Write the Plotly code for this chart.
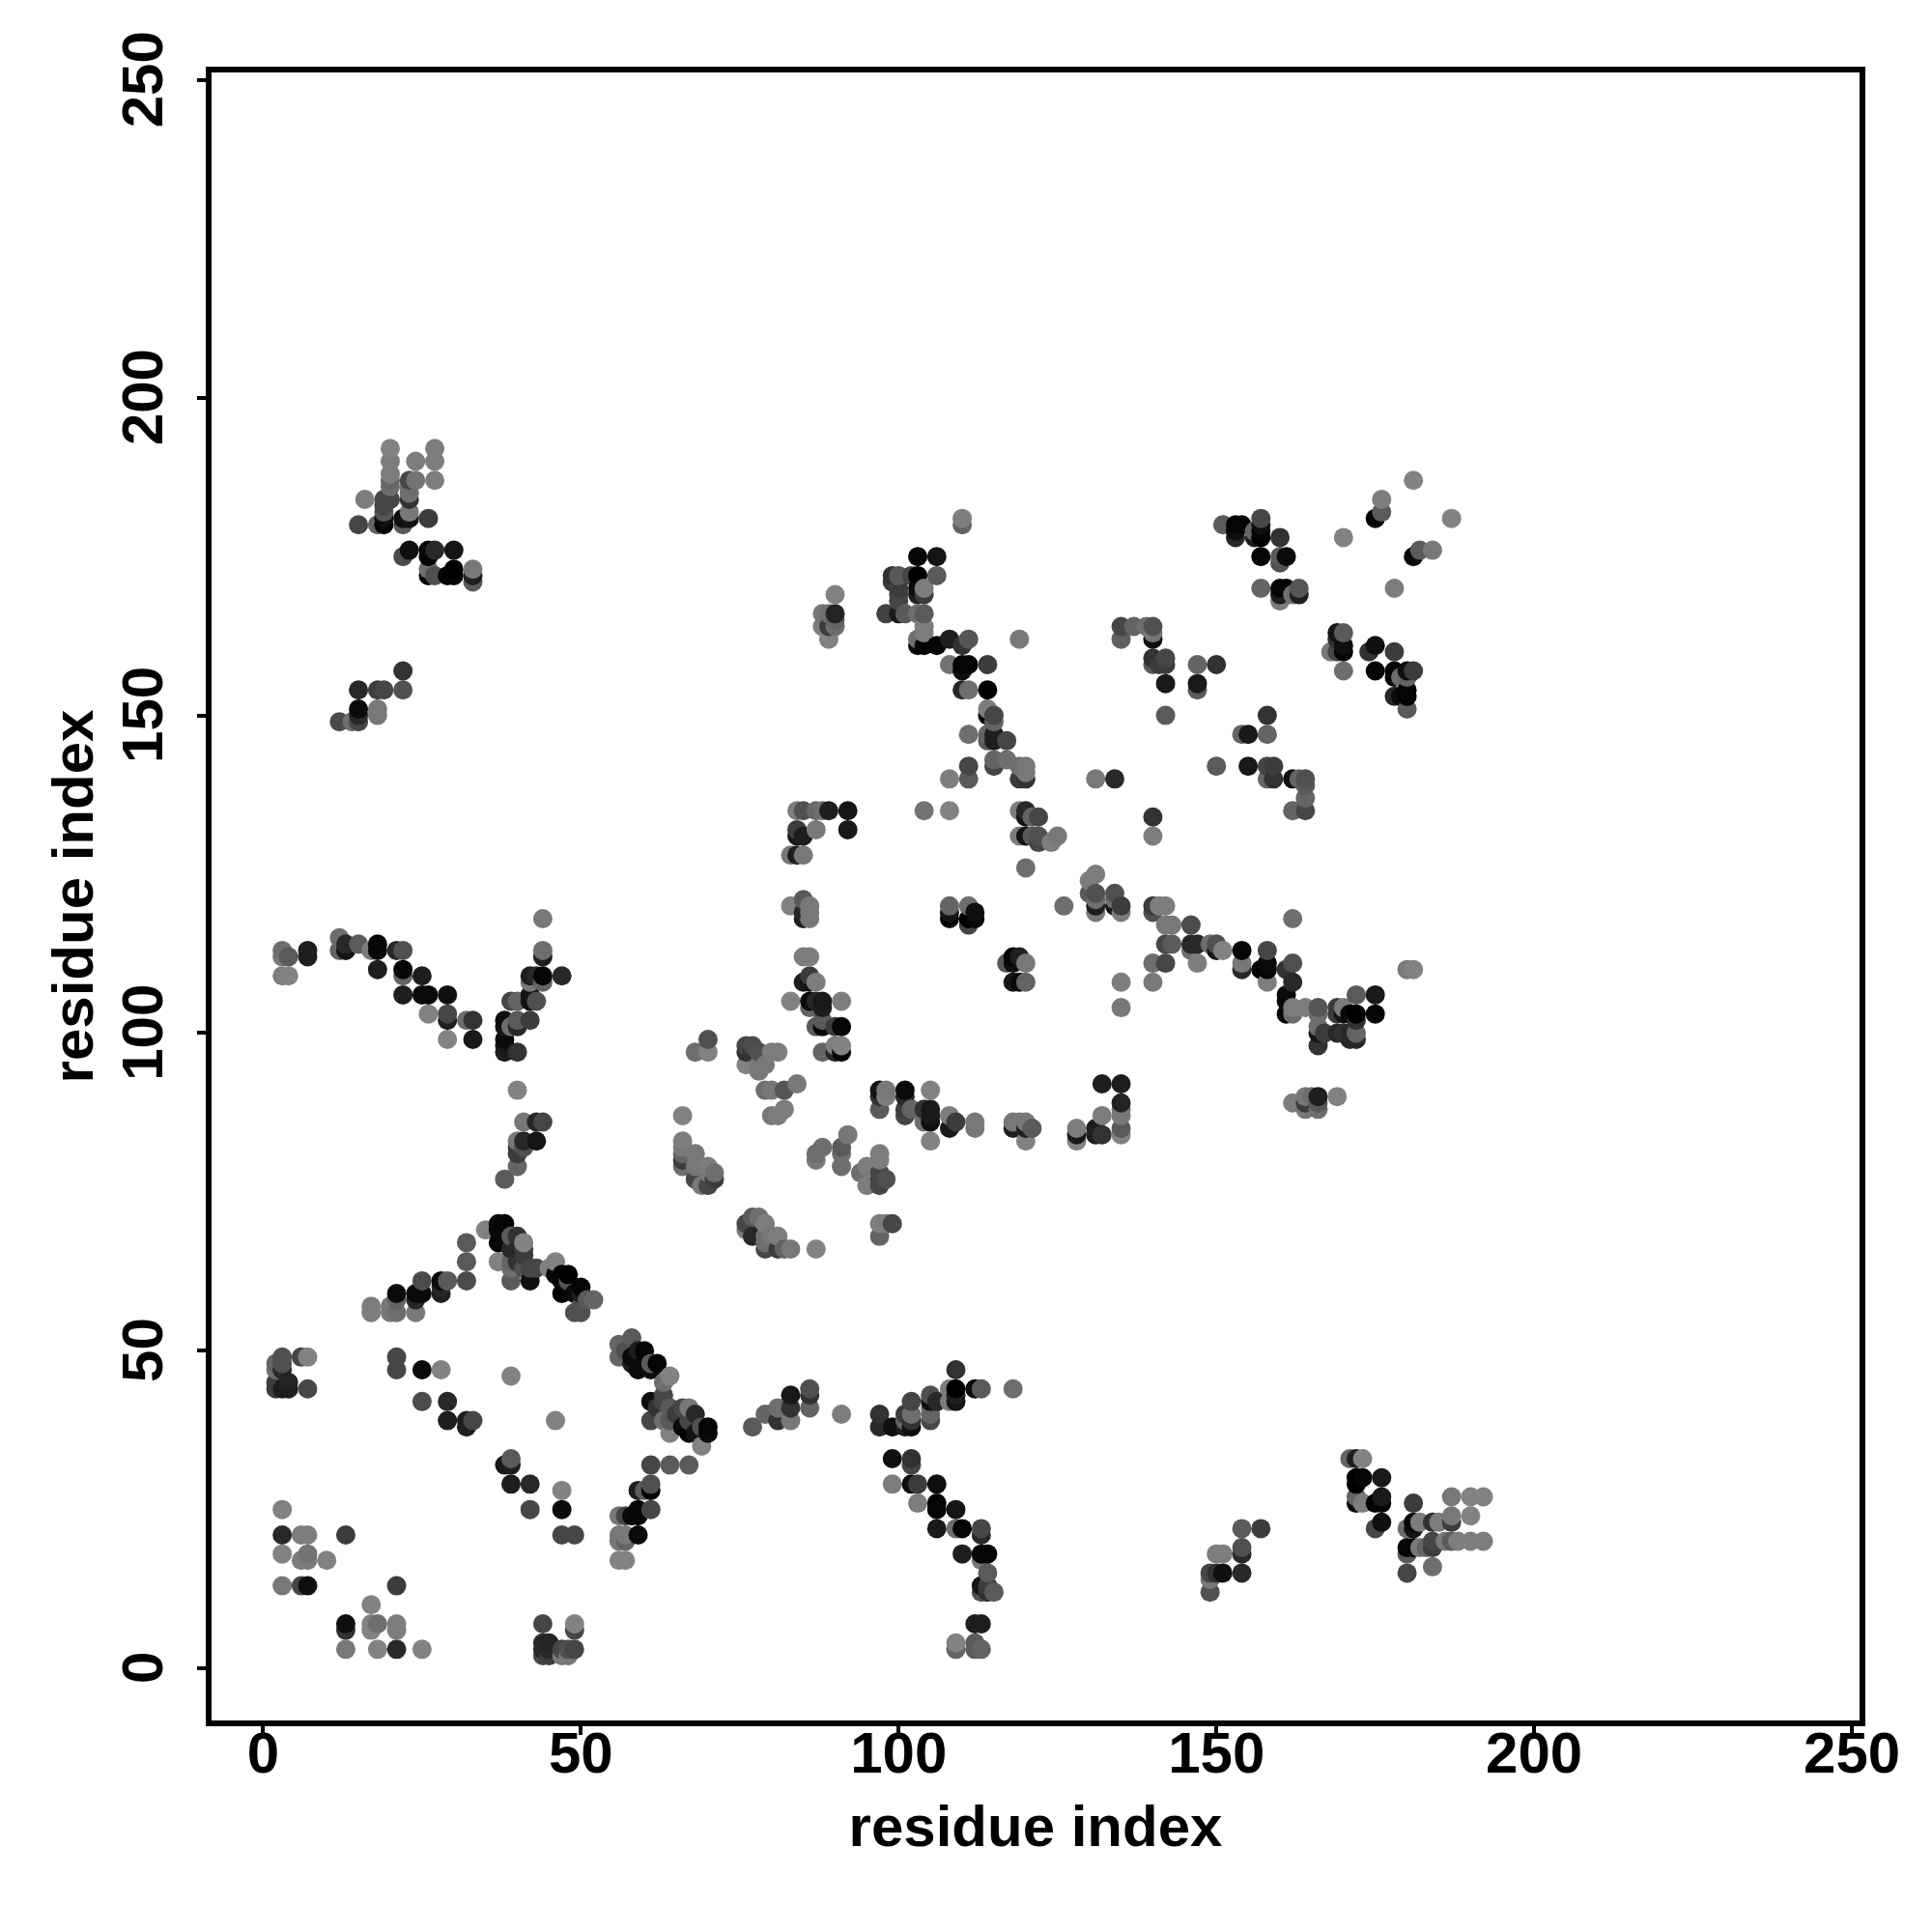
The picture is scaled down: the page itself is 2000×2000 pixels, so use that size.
import numpy as np
import plotly.graph_objects as go

# Contacts: (residue i, residue j, shade) with shade 0 (strongest, black) .. 140 (weakest, grey)
corner_low = [(3,25,130),(3,21,40),(6,21,125),(7,21,125),(13,21,60),(3,18,130),(6,17,125),(7,17,125),(7,18,115),(10,17,130),
 (3,13,120),(6,13,70),(7,13,15),(21,13,60),(17,10,130),(13,7,15),(13,6,50),(17,7,130),(17,6,130),(18,7,110),(21,7,125),(21,6,125),
 (13,3,120),(18,3,130),(21,3,40),(25,3,130),(44,7,70),(49,7,130),(49,6,70),(44,4,40),(45,4,35),(44,3,40),(44,2,70),(45,2,60),(45,3,40),
 (47,2,120),(48,2,120),(48,3,80),(49,3,70),(47,3,70)]
left_44_49 = [(3,49,80),(3,48,80),(2,44,60),(2,45,60),(3,44,30),(4,44,30),(4,45,35),(3,47,40),(6,49,70),(7,49,130),(7,44,70),(2,47,110),(2,48,100)]
inner_diamond = [(21,49,70),(21,47,70),(25,47,10),(28,47,130),(25,42,75),(29,42,40),(29,39,30),(32,39,30),(32,38,30),(33,39,70),(39,46,130),(46,39,130),
 (39,33,90),(38,32,25),(39,32,30),(39,29,30),(42,29,40),(47,28,130),(47,25,10),(42,25,70),(47,21,70),(49,21,70)]
lower_arm = [(61,32,70),(64,32,90),(67,32,90),(61,29,80),(61,28,5),(59,28,30),(60,28,90),(61,25,70),(59,25,5),(58,24,10),(59,24,5),(56,24,120),(57,24,70),
 (59,21,10),(56,21,120),(57,21,120),(56,20,120),(57,20,100),(56,17,130),(57,17,130)]
diag_50_70 = [(58,52,90),(56,51,100),(56,49,100),(57,50,80),(59,50,30),(60,50,5),(58,48,30),(59,47,10),(61,47,15),(62,48,5),(61,48,90),(58,49,10),(60,48,10),(64,46,130),(63,45,110),
 (61,42,15),(63,43,70),(63,42,70),(64,41,90),(61,39,70),(64,39,90),(64,37,130),(63,39,110),(66,41,70),(67,41,120),(68,40,40),(67,39,70),(66,38,10),(67,37,5),(69,38,80),(70,38,5),(70,37,10),
 (69,35,130),(68,37,20),(62,41,50),(65,40,60)]
rise_17_32 = [(17,57,125),(17,56,125),(20,57,120),(20,56,120),(21,58,100),(21,56,110),(24,56,120),(24,58,40),(21,59,10),(24,59,10),(25,59,10),(25,61,75),(28,61,10),(28,59,30),(29,61,90),(28,60,40),(32,61,75),(32,64,90)]
peak_35_52 = [(35,69,130),(37,70,10),(38,70,5),(37,69,10),(37,67,5),(39,68,90),(40,68,50),(41,67,130),(41,66,60),(39,66,40),(38,67,10),(32,67,90),(37,64,130),(39,64,100),(39,63,110),
 (41,63,80),(42,63,70),(43,63,70),(45,63,130),(46,64,130),(39,61,90),(42,61,15),(46,62,10),(47,62,5),(48,62,0),(47,61,10),(50,60,5),(48,61,80),(47,59,5),(49,59,10),(50,59,30),
 (51,58,90),(52,58,100),(50,57,80),(49,56,80),(50,56,80),(40,66,40),(41,65,60),(40,64,50)]
left_arm_110 = [(3,113,110),(3,112,120),(4,112,90),(7,113,30),(7,112,30),(3,109,125),(4,109,130),(12,115,110),(12,113,100),(13,114,40),(13,113,20),(15,114,90),(17,113,125),(18,114,5),(18,113,10),
 (21,113,40),(22,113,80),(18,110,30),(22,110,5),(22,109,100),(25,109,30),(22,106,30),(25,106,10),(26,106,10),(29,106,15),(26,103,130),(29,103,70),(29,102,30),(32,102,110),(33,102,50),(29,99,130),(33,99,25)]
v_arm_40 = [(44,118,120),(44,113,110),(44,112,30),(42,109,30),(43,109,40),(44,109,5),(47,109,40),(42,108,120),(44,108,100),(39,105,70),(40,105,100),(42,105,20),(42,106,20),(43,105,80),
 (38,102,15),(40,102,90),(42,102,60),(38,101,20),(39,101,110),(40,101,40),(38,99,10),(38,97,30),(40,97,50),(38,98,25),(40,91,130),(41,86,120),(43,86,40),(44,86,70),
 (40,83,120),(41,83,40),(43,83,20),(40,82,60),(41,82,80),(40,81,60),(40,79,100),(38,77,90)]
stem_85 = [(83,120,130),(85,121,90),(85,119,40),(85,118,30),(86,120,120),(86,119,120),(86,118,120),(85,112,125),(86,112,125),(86,109,60),(85,108,30),(86,108,20),(87,108,125),
 (83,105,130),(86,105,10),(87,105,40),(88,105,25),(91,105,125),(86,104,100),(88,104,30),(87,101,90),(88,102,90),(88,101,10),(90,101,60),(91,101,5),(88,97,100),(90,98,125),(91,98,130),(91,97,5),(90,97,40)]
mid_66_84 = [(70,99,80),(70,97,130),(68,97,110),(76,98,70),(77,98,75),(76,97,50),(77,97,50),(78,97,80),(80,97,125),(81,97,125),(76,95,130),(78,95,120),(79,95,120),(78,94,120),
 (79,91,110),(80,91,120),(82,91,85),(84,92,120),(80,87,120),(81,87,125),(82,88,125),(66,87,130),(66,83,125),(66,82,120),(66,81,100),(66,80,60),(66,79,110),(68,81,120),(68,79,120),(68,77,70),
 (70,79,125),(70,78,120),(69,76,120),(70,76,70),(71,78,110),(71,77,60)]
mid_87_98 = [(88,82,110),(87,81,110),(87,80,120),(92,84,120),(91,82,90),(91,81,110),(91,79,110),(97,81,125),(97,80,125),(94,78,110),(95,79,125),(95,76,125),(97,77,70),(97,76,70),(98,77,80),(97,78,70)]
band_85 = [(97,88,90),(97,91,20),(98,91,120),(98,90,125),(97,90,50),(101,91,10),(101,90,40),(101,88,60),(101,87,70),(102,88,100),(105,91,130),(104,88,50),(105,88,25),(105,87,25),(105,86,15),(104,86,110),(105,83,130),
 (108,87,125),(108,85,25),(109,86,60),(112,86,120),(112,85,120),(118,86,120),(118,85,30),(119,86,120),(120,86,120),(120,85,30),(121,85,90),(120,83,130),(128,85,125),(128,84,25),(128,83,130),
 (131,85,30),(131,84,30),(132,84,50),(132,87,125),(132,92,30),(135,92,30),(135,89,35),(135,88,120),(135,87,120),(135,85,90),(135,84,130)]
cluster_66_99 = [(76,70,70),(77,71,90),(78,71,110),(79,70,125),(76,69,125),(77,68,40),(79,68,110),(79,67,110),(80,68,120),(81,68,125),(79,66,70),(81,66,60),(82,66,100),(83,66,120),(87,66,130),(97,70,125),(98,70,125),(99,70,70),(97,68,100)]
band_40 = [(77,38,90),(79,40,100),(80,40,100),(81,39,50),(83,39,120),(81,41,110),(83,43,25),(83,41,50),(86,44,80),(86,43,50),(86,41,100),(91,40,125),(97,40,50),(97,38,40),(99,38,15),(101,40,60),(102,42,70),(102,40,110),(101,38,30),(102,38,15),(101,39,100),(102,39,50),
 (105,43,80),(105,42,15),(106,42,40),(105,41,100),(105,40,100),(105,39,70),(108,44,125),(108,42,125),(109,47,50),(109,44,0),(109,43,30),(109,42,20),(112,44,10),(113,44,90),(118,44,110)]
descent_100_115 = [(99,33,15),(102,33,50),(102,32,70),(99,29,125),(102,29,15),(103,29,60),(106,29,15),(103,26,125),(106,26,5),(106,25,5),(109,25,20),(106,22,25),(109,22,110),(110,22,5),(113,22,70),(113,21,40),
 (110,18,30),(113,18,5),(114,18,5),(113,17,120),(114,15,90),(113,13,20),(113,12,80),(114,13,60),(114,12,50),(115,12,90),(112,7,30),(113,7,30),(109,4,130),(109,3,100),(112,4,90),(112,3,90),(113,3,100)]
right_low = [(149,12,80),(149,14,120),(149,15,70),(150,15,50),(151,15,15),(150,18,125),(151,18,125),(154,15,40),(154,18,40),(154,19,80),(154,22,90),(157,22,60),
 (171,33,100),(172,33,30),(173,33,130),(172,30,0),(173,30,5),(172,29,0),(176,30,25),(172,27,100),(172,26,10),(173,26,125),(175,26,0),(176,27,25),(176,26,5),(176,23,15),(175,22,70),
 (181,26,60),(180,22,110),(181,23,5),(181,22,20),(182,23,125),(184,23,50),(185,23,125),(187,23,60),(187,24,120),(190,24,130),(187,27,120),(190,27,130),(192,27,130),
 (180,19,5),(181,19,5),(180,18,90),(180,15,70),(182,19,120),(183,19,100),(184,19,60),(184,20,70),(184,16,110),(186,20,120),(187,20,90),(188,20,125),(190,20,125),(192,20,125)]
band_110 = [(120,126,110),(131,125,125),(130,124,125),(130,122,90),(131,122,80),(131,121,110),(131,120,30),(131,119,120),(134,122,80),(134,121,110),(135,120,60),(134,120,20),(135,119,125),(126,120,110),
 (140,120,60),(140,119,80),(141,120,125),(142,120,125),(142,117,120),(143,117,120),(142,114,70),(143,114,90),(146,117,75),(146,114,40),(147,114,40),(146,113,110),(149,114,110),(150,114,80),(150,113,20),(151,113,130),
 (154,113,5),(158,113,70),(162,118,110),(140,111,110),(142,111,70),(147,111,125),(154,111,120),(154,110,40),(157,110,5),(158,111,10),(158,110,5),(158,108,125),
 (161,110,50),(162,111,80),(162,108,40),(161,106,10),(161,105,10),(161,103,5),(162,103,110),(162,104,125),(164,104,125),(166,104,85),(166,103,110),(166,101,110),(167,100,60),(166,100,20),(166,98,50),
 (169,104,60),(170,104,125),(169,103,60),(170,103,20),(171,103,10),(172,103,0),(175,103,5),(175,106,25),(172,106,90),(172,102,50),(169,100,40),(170,100,50),(171,100,40),(171,99,40),(172,99,40),(172,100,100),(180,110,120),(181,110,130),
 (118,112,5),(119,112,30),(117,111,90),(118,111,15),(120,111,120),(118,108,25),(119,108,10),(120,108,100),(135,108,125),(135,104,120),(140,108,120),
 (162,89,125),(164,90,120),(164,89,60),(164,88,120),(166,90,30),(166,89,90),(166,88,110),(165,90,110),(169,90,130)]
stem_110_172 = [(110,181,125),(110,180,100),(103,175,5),(106,175,20),(99,172,50),(100,172,90),(99,171,60),(103,172,0),(106,172,90),(102,172,70),(100,169,70),(100,170,60),(103,170,10),(104,170,125),(103,169,30),(104,169,60),(100,168,70),
 (98,166,65),(100,166,25),(101,166,90),(103,166,110),(104,166,90),(104,164,125),(104,163,125),(103,162,110),(103,161,5),(104,161,5),(106,161,5),(108,162,30),(110,161,50),(111,162,85),(119,162,120),
 (90,169,130),(88,166,120),(89,166,110),(90,166,35),(88,164,125),(89,164,60),(90,165,100),(90,164,110),(89,162,130),
 (108,158,115),(110,158,5),(111,158,5),(110,157,15),(114,158,60),(110,154,40),(111,154,110),(114,154,0),(114,151,125),(115,150,70),(114,150,5),(115,149,100),(111,147,110),(114,147,100),(115,147,30),(114,146,90),(115,146,30),(117,146,70),
 (115,143,100),(115,142,70),(117,143,110),(119,142,110),(120,142,120),(120,141,120),(119,140,60),(120,140,50),(111,142,70),(111,140,90),(108,140,125),(131,140,120),(134,140,40),(104,135,115),(108,135,130),
 (119,135,125),(120,135,40),(120,134,20),(121,134,100),(122,134,70),(119,131,125),(120,131,20),(121,131,90),(122,131,80),(122,130,70),(124,130,125),(125,131,120),(120,126,110)]
block_84_92 = [(84,135,125),(85,135,80),(87,135,105),(88,135,110),(89,135,30),(92,135,20),(84,132,60),(84,131,25),(85,131,30),(87,132,120),(92,132,25),(83,128,120),(84,128,30),(85,128,120),(108,120,100),(108,118,5),(108,119,20),(111,120,110),(111,118,0),(111,117,70),(112,119,15),(112,118,5)]
block_135_150 = [(135,164,70),(135,162,95),(137,164,100),(139,164,110),(140,164,80),(140,162,15),(140,163,120),(140,159,50),(140,158,90),(142,159,70),(142,158,60),(141,158,60),(142,155,25),(147,155,25),(147,154,90),(147,158,100),(150,158,50),(142,150,90),(140,134,50),(140,131,125)]
upper_right = [(151,180,90),(153,180,5),(154,180,5),(153,179,15),(153,178,40),(157,181,70),(157,180,15),(156,179,100),(157,179,5),(157,178,0),(156,178,30),(160,178,50),(157,175,5),(160,175,90),(161,175,10),(160,174,80),
 (157,170,100),(160,170,5),(161,170,5),(160,169,30),(160,168,125),(162,169,110),(163,170,85),(163,169,30),(181,187,130),(176,184,125),(176,182,90),(175,181,5),(187,181,130),(170,178,130),(181,175,10),(182,176,90),(184,176,120),(178,170,125),
 (169,163,20),(170,163,90),(169,162,50),(170,161,15),(170,160,5),(168,160,120),(169,160,70),(170,157,110),(174,160,50),(175,161,15),(178,160,60),(175,157,5),(178,157,5),(180,157,15),(181,157,60),(178,156,5),(179,156,110),(180,156,100),
 (178,153,40),(179,153,10),(180,153,0),(180,154,5),(180,151,90),(158,150,50),(154,147,100),(155,147,25),(158,147,100),(150,142,90),(155,142,25),(158,142,70),(159,142,60),(158,140,100),(159,140,50),(162,140,15),(163,140,100),(164,140,80),(164,139,90),(164,137,100),(162,135,100),(164,135,70)]
upper_left = [(20,192,130),(20,190,125),(20,188,125),(20,187,100),(20,186,110),(24,190,125),(27,192,125),(27,190,125),(27,187,125),(23,187,70),(24,187,115),(23,186,110),(23,185,110),(23,184,50),(16,184,125),(19,184,70),(20,184,70),(19,183,70),(19,182,85),(23,182,120),
 (15,180,70),(18,180,100),(19,180,5),(22,180,90),(22,181,15),(23,181,20),(26,181,60),(19,181,15),(22,175,75),(23,176,15),(26,176,5),(26,175,5),(27,176,40),(30,176,20),(26,173,110),(26,172,5),(27,172,80),(29,172,5),(30,173,0),(30,172,5),(33,173,120),(33,172,30),(33,171,90),
 (22,157,50),(15,154,40),(18,154,60),(19,154,70),(22,154,80),(15,151,10),(18,151,120),(18,150,120),(15,150,40),(15,149,70),(14,149,110),(12,149,75)]

tick_values = [0, 50, 100, 150, 200, 250]
tick_labels = ["0", "50", "100", "150", "200", "250"]
axis_label = "residue index"

groups = [corner_low, left_44_49, inner_diamond, lower_arm, diag_50_70, rise_17_32, peak_35_52, left_arm_110, v_arm_40, stem_85,
          mid_66_84, mid_87_98, band_85, cluster_66_99, band_40, descent_100_115, right_low, band_110, stem_110_172,
          block_84_92, block_135_150, upper_right, upper_left]
unique = {}
for g in groups:
    for i, j, s in g:
        unique[(i, j)] = s
# Drawn in index order: later (right, upper) points sit on top, as in the reference
keys = sorted(unique)
xs = [k[0] for k in keys]
ys = [k[1] for k in keys]
shade = [unique[k] for k in keys]

font = "Liberation Sans, Arial, sans-serif"
fig = go.Figure(go.Scatter(
    x=xs, y=ys, mode="markers",
    marker=dict(size=20, color=shade, cmin=0, cmax=140, showscale=False,
                colorscale=[[0, "rgb(0,0,0)"], [1, "rgb(140,140,140)"]], line=dict(width=0)),
    hoverinfo="skip"))
axis = dict(tickmode="array", tickvals=tick_values, ticks="outside", ticklen=9, tickwidth=4, tickcolor="black",
            showline=True, mirror=True, linecolor="black", linewidth=6, showgrid=False, zeroline=False)
fig.update_layout(
    width=2000, height=2000, paper_bgcolor="white", plot_bgcolor="white", showlegend=False,
    margin=dict(l=211, r=83, t=67, b=227, autoexpand=False),
    font=dict(family=font, color="black"),
    xaxis=dict(axis, range=[-8.12, 251.2], ticktext=tick_labels, ticklabelstandoff=-33,
               title=dict(text="<b>%s</b>" % axis_label, font=dict(family=font, size=60, color="black"), standoff=24)),
    # a trailing no-break space centres the rotated labels on their ticks
    yaxis=dict(axis, range=[-8.2, 251.2], tickangle=-90, ticktext=[t + "\u00a0" for t in tick_labels], ticklabelstandoff=12,
               title=dict(text="<b>%s</b>" % axis_label, font=dict(family=font, size=60, color="black"), standoff=0)),
)
fig.update_xaxes(tickfont=dict(family="Liberation Sans", size=60, weight="bold", color="black"))
fig.update_yaxes(tickfont=dict(family="Liberation Sans", size=60, weight="bold", color="black"))
fig.write_html("out.html")
